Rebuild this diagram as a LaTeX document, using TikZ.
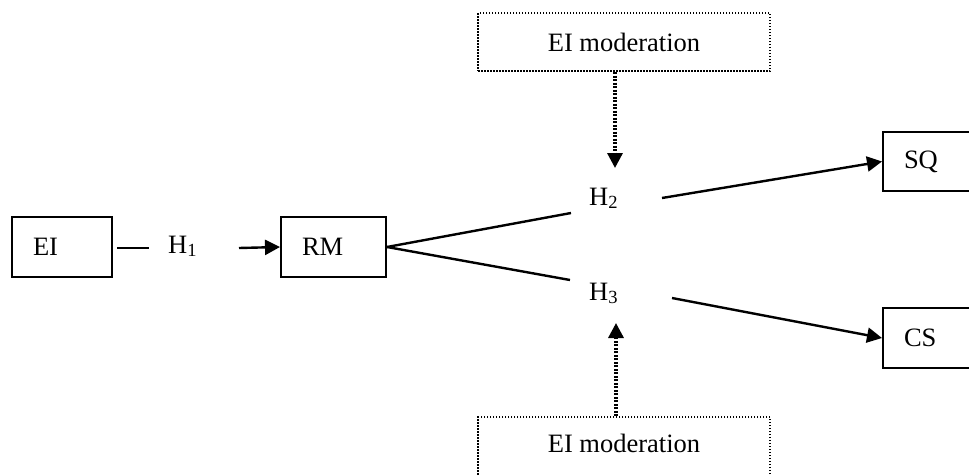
\documentclass[tikz,border=0pt]{standalone}
\usepackage{fontspec}
\setmainfont{Liberation Serif}
\usetikzlibrary{arrows.meta}
\begin{document}
\begin{tikzpicture}[x=1pt,y=-1pt,
  font=\fontsize{26.5}{30}\selectfont,
  solidbox/.style={draw, line width=2pt, rectangle, minimum height=60pt, inner xsep=21pt, inner ysep=0pt, align=left},
  dotbox/.style={draw, line width=2pt, dash pattern=on 1.5pt off 1.5pt, rectangle, minimum width=292pt, minimum height=58pt, inner sep=0pt},
  hlabel/.style={anchor=base west, inner sep=0pt},
  conn/.style={line width=2.4pt},
  tip/.style={-{Triangle[length=15pt,width=15pt]}},
  modline/.style={line width=3.2pt, dash pattern=on 2pt off 1.5pt}
]
\useasboundingbox (0,0) rectangle (969,474);
\clip (0,0) rectangle (969,474);

% boxes
\node[solidbox, text width=58pt] (EI) at (62,247) {EI};
\node[solidbox, text width=63pt] (RM) at (333.5,247) {RM};
\node[solidbox, text width=68pt, minimum height=59pt] (SQ) at (938,161.5) {SQ};
\node[solidbox, text width=68pt] (CS) at (938,338) {CS};
\node[dotbox] (top) at (624,42) {EI moderation};
\node[dotbox, minimum height=62pt, text depth=9pt] (bot) at (624,448) {EI moderation};

% hypothesis labels
\node[hlabel] (H1) at (168,253) {H\textsubscript{1}};
\node[hlabel] (H2) at (589,205) {H\textsubscript{2}};
\node[hlabel] (H3) at (589,300) {H\textsubscript{3}};

% free ends
\coordinate (l1a) at (117,248);
\coordinate (l1b) at (149,248);
\coordinate (l1c) at (239,248);
\coordinate (b2) at (571,213);
\coordinate (b3) at (570,280);
\coordinate (s2) at (662,198);
\coordinate (s3) at (672,298);
\coordinate (mt) at (615,168);
\coordinate (mb) at (616,323);

% connectors
\draw[conn] (l1a) -- (l1b);
\draw[conn, tip] (l1c) -- (RM.west);
\draw[conn] (RM.east) -- (b2);
\draw[conn] (RM.east) -- (b3);
\draw[conn, tip] (s2) -- (SQ.west);
\draw[conn, tip] (s3) -- (CS.west);
\draw[modline, tip] (mt |- top.south) -- (mt);
\draw[modline, tip] (mb |- bot.north) -- (mb);
\end{tikzpicture}
\end{document}
